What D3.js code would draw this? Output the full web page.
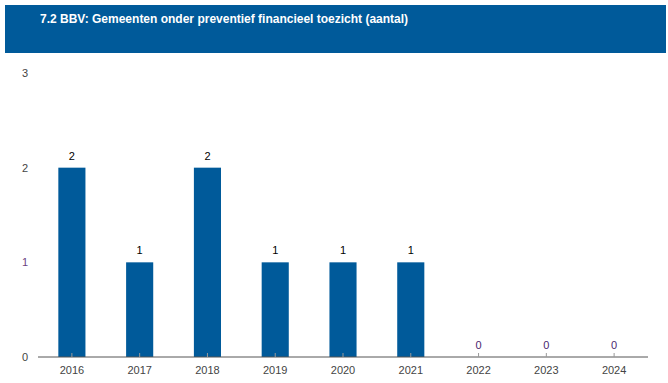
<!doctype html>
<html>
<head>
    <meta charset="UTF-8">
    <title>BBV toezicht</title>
    <script src="https://d3js.org/d3.v7.min.js"></script>
    <style>
        body{ margin:0; background:#fff; }
        svg text{ font-family: Arial, "Liberation Sans", sans-serif; }
    </style>
</head>
<body>
    <div id="chart"></div>
    <script>
        var title = "7.2 BBV: Gemeenten onder preventief financieel toezicht (aantal)";
        var years = ["2016", "2017", "2018", "2019", "2020", "2021", "2022", "2023", "2024"];
        var counts = [2, 1, 2, 1, 1, 1, 0, 0, 0];
        var yTicks = [0, 1, 2, 3];

        var w = 668, h = 383;
        var blue = "#005a9a";

        var svg = d3.select("#chart").append("svg")
            .attr("width", w)
            .attr("height", h);

        // header
        svg.append("rect")
            .attr("x", 5).attr("y", 5)
            .attr("width", 661).attr("height", 48)
            .attr("fill", blue);
        svg.append("text")
            .attr("x", 40).attr("y", 23)
            .attr("fill", "#fff")
            .attr("font-size", 12)
            .attr("font-weight", "bold")
            .text(title);

        var x = d3.scaleBand()
            .domain(years)
            .range([38, 648])
            .paddingInner(0.6)
            .paddingOuter(0.3);

        var y = d3.scaleLinear()
            .domain([0, 3])
            .range([357, 73]);

        // y labels
        svg.selectAll(".ylab")
            .data(yTicks)
            .enter().append("text")
            .attr("class", "ylab")
            .attr("x", 25)
            .attr("y", function(d){ return y(d) + 4; })
            .attr("text-anchor", "middle")
            .attr("font-size", 11)
            .attr("fill", function(d){ return d == 1 ? "#6b3f7f" : "#444"; })
            .text(function(d){ return d; });

        // bars
        svg.selectAll(".bar")
            .data(counts)
            .enter().append("rect")
            .attr("class", "bar")
            .attr("x", function(d, i){ return x(years[i]); })
            .attr("y", function(d){ return y(d); })
            .attr("width", x.bandwidth())
            .attr("height", function(d){ return y(0) - y(d); })
            .attr("fill", blue);

        // value labels
        svg.selectAll(".val")
            .data(counts)
            .enter().append("text")
            .attr("class", "val")
            .attr("x", function(d, i){ return x(years[i]) + x.bandwidth() / 2; })
            .attr("y", function(d){ return y(d) - 8; })
            .attr("text-anchor", "middle")
            .attr("font-size", 11)
            .attr("fill", function(d){ return d == 0 ? "#4b1f6f" : "#000"; })
            .text(function(d){ return d; });

        // x axis
        var xAxis = d3.axisBottom(x).tickSize(0).tickPadding(9);
        var gx = svg.append("g")
            .attr("transform", "translate(0,357)")
            .call(xAxis);
        gx.select(".domain").attr("stroke", "#555").attr("d", "M38,0H648");
        gx.selectAll("text")
            .attr("font-size", 11)
            .attr("font-family", "Arial, 'Liberation Sans', sans-serif")
            .attr("fill", "#444");
        gx.selectAll(".tick").append("line")
            .attr("y1", -4).attr("y2", 0)
            .attr("stroke", "#999");
    </script>
</body>
</html>
